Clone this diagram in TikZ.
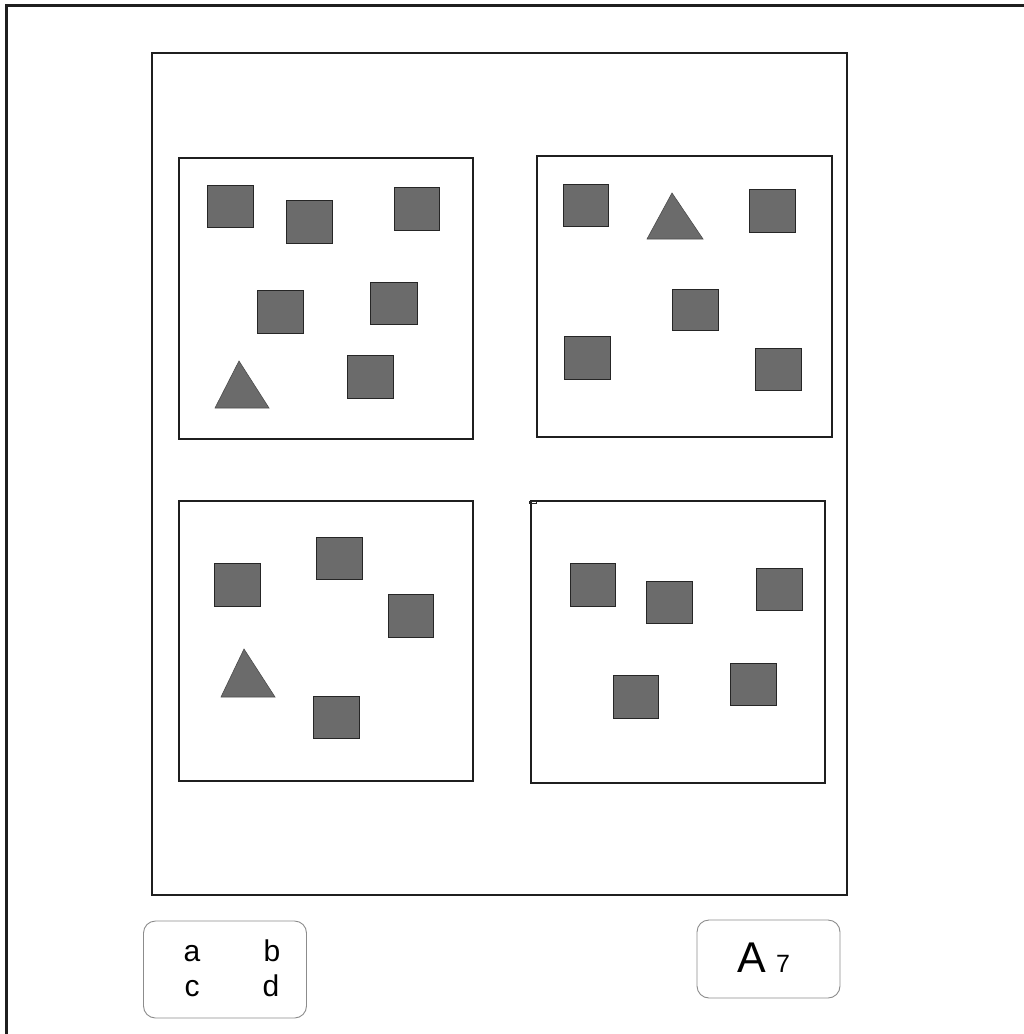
\documentclass[tikz,border=0pt]{standalone}
\usepackage{fontspec}
\setmainfont{Liberation Sans}
\begin{document}
\begin{tikzpicture}[x=1pt,y=-1pt,
  frame/.style={draw=black!88,line width=1.3pt},
  sqr/.style={draw=black!85,fill=shapegray,line width=1pt},
  tri/.style={draw=black!70,fill=shapegray,line width=0.6pt},
  legend/.style={draw=black!45,line width=0.9pt,rounded corners=12pt},
  lbl/.style={inner sep=0pt,anchor=base,font=\fontsize{30}{30}\selectfont}]
\definecolor{shapegray}{RGB}{107,107,107}
\useasboundingbox (0,0) rectangle (1024,1034);
\fill[white] (0,0) rectangle (1024,1034);
% outer frame (only left and top edges visible)
\draw[line width=3pt,draw=black!88] (6,1034) -- (6,5) -- (1024,5);
% main frame
\draw[frame] (152,53) rectangle (847,895);
% panel 1
\draw[frame] (179,158) rectangle (473,439);
\draw[sqr] (207,185) rectangle (253,227);
\draw[sqr] (286,200) rectangle (332,243);
\draw[sqr] (394,187) rectangle (439,230);
\draw[sqr] (257,290) rectangle (303,333);
\draw[sqr] (370,282) rectangle (417,324);
\draw[sqr] (347,355) rectangle (393,398);
\draw[tri] (239,361) -- (269,408) -- (215,408) -- cycle;
% panel 2
\draw[frame] (537,156) rectangle (832,437);
\draw[sqr] (563,184) rectangle (608,226);
\draw[tri] (672,193) -- (703,239) -- (647,239) -- cycle;
\draw[sqr] (749,189) rectangle (795,232);
\draw[sqr] (672,289) rectangle (718,330);
\draw[sqr] (564,336) rectangle (610,379);
\draw[sqr] (755,348) rectangle (801,390);
% panel 3
\draw[frame] (179,501) rectangle (473,781);
\draw[sqr] (214,563) rectangle (260,606);
\draw[sqr] (316,537) rectangle (362,579);
\draw[sqr] (388,594) rectangle (433,637);
\draw[tri] (244,649) -- (275,697) -- (221,697) -- cycle;
\draw[sqr] (313,696) rectangle (359,738);
% panel 4
\draw[frame] (531,501) rectangle (825,783);
\draw[draw=black!85,line width=0.8pt] (529.5,501.2) rectangle (536.5,503.8);
\draw[sqr] (570,563) rectangle (615,606);
\draw[sqr] (646,581) rectangle (692,623);
\draw[sqr] (756,568) rectangle (802,610);
\draw[sqr] (613,675) rectangle (658,718);
\draw[sqr] (730,663) rectangle (776,705);
% legend boxes
\draw[legend] (143.5,921) rectangle (306.5,1018);
\node[lbl] (la) at (192,961) {a};
\node[lbl] (lb) at (272,961) {b};
\node[lbl] (lc) at (192,996) {c};
\node[lbl] (ld) at (271,996) {d};
\draw[legend] (697,920) rectangle (840,998);
\node[inner sep=0pt,anchor=base,font=\fontsize{43}{43}\selectfont] (lA) at (752,972.5) {A};
\node[inner sep=0pt,anchor=base,font=\fontsize{25}{25}\selectfont] (l7) at (783,972.5) {7};
\end{tikzpicture}
\end{document}
